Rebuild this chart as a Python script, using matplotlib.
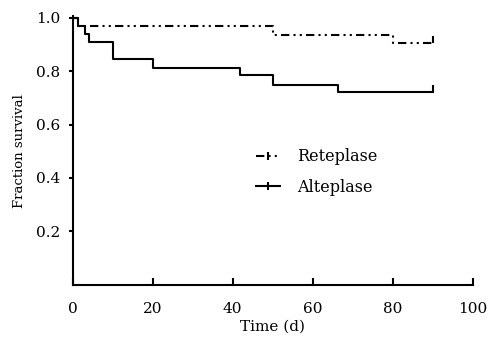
import matplotlib
matplotlib.use("Agg")
import matplotlib.pyplot as plt
from matplotlib.lines import Line2D

# Kaplan-Meier style step data (days, fraction surviving)
rete_time = [0, 1.3, 50, 80, 90]
rete_surv = [1.0, 0.969, 0.936, 0.906, 0.906]

alte_time = [0, 1.3, 3.1, 4.1, 10, 20, 41.8, 50, 66.2, 90]
alte_surv = [1.0, 0.969, 0.939, 0.907, 0.845, 0.81, 0.784, 0.747, 0.721, 0.721]

x_ticks = [0, 20, 40, 60, 80, 100]
y_ticks = [0.2, 0.4, 0.6, 0.8, 1.0]

RETE_LS = (0, (4, 2, 1, 2, 1, 2))   # dash-dot-dot

plt.rcParams.update({
    "font.family": "DejaVu Serif",
    "font.size": 11,
})

fig = plt.figure(figsize=(4.91, 3.42), dpi=100)
ax = fig.add_axes([0.148, 0.1667, 0.815, 0.786])

ax.step(rete_time, rete_surv, where="post", color="black", lw=1.5,
        linestyle=RETE_LS)
ax.step(alte_time, alte_surv, where="post", color="black", lw=1.5)

# censor marks at the end of follow-up (small upward ticks)
ax.plot(rete_time[-1], rete_surv[-1], marker=2, color="black", ms=5, mew=1.5)
ax.plot(alte_time[-1], alte_surv[-1], marker=2, color="black", ms=5, mew=1.5)

ax.set_xlim(0, 100)
ax.set_ylim(0, 1.005)
ax.set_xticks(x_ticks)
ax.set_yticks(y_ticks)
ax.set_xticklabels([str(v) for v in x_ticks])
ax.set_yticklabels([f"{v:.1f}" for v in y_ticks])

for side in ["top", "right"]:
    ax.spines[side].set_visible(False)
for side in ["left", "bottom"]:
    ax.spines[side].set_linewidth(1.5)

ax.tick_params(axis="x", direction="in", length=5, width=1.5, pad=12,
               labelsize=11)
ax.tick_params(axis="y", direction="out", length=3, width=1.5, pad=6,
               labelsize=11)

ax.set_xlabel("Time (d)", fontsize=11, labelpad=3)
ax.set_ylabel("Fraction survival", fontsize=9.5, labelpad=7)

handles = [
    Line2D([], [], color="black", lw=1.5, linestyle=RETE_LS,
           marker="|", ms=6, mew=1.5),
    Line2D([], [], color="black", lw=1.5, marker="|", ms=6, mew=1.5),
]
ax.legend(handles, ["Reteplase", "Alteplase"], loc="center left",
          bbox_to_anchor=(0.438, 0.42), frameon=False, borderpad=0,
          handlelength=1.5, handletextpad=1.1, labelspacing=0.85,
          fontsize=11.5, numpoints=1)

fig.savefig("out.png", dpi=100)
